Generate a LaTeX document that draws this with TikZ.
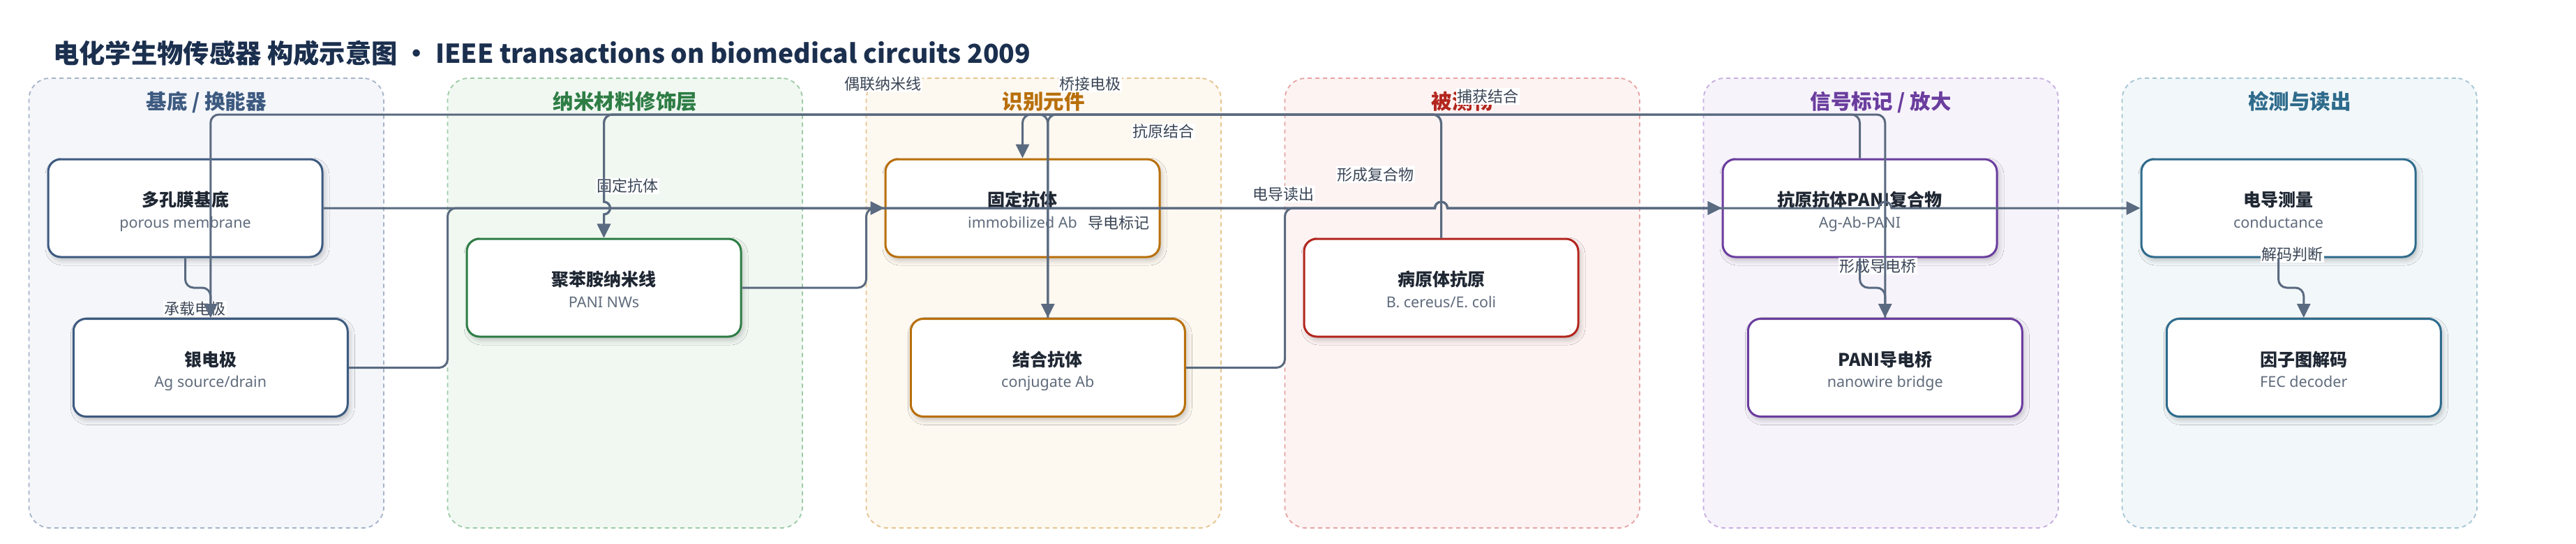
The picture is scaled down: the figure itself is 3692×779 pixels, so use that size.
\documentclass[tikz,border=0pt]{standalone}
\usepackage{fontspec}
\setmainfont{Noto Sans CJK SC}
\newfontfamily\subf{Noto Sans}
\usetikzlibrary{arrows.meta,shadows.blur}
\definecolor{edgec}{HTML}{5A6A80}
\definecolor{titlec}{HTML}{1B2F4E}
\definecolor{nodetc}{HTML}{1F2733}
\definecolor{subc}{HTML}{5F6B7C}
\definecolor{lblc}{HTML}{3A4556}
\definecolor{fA}{HTML}{F4F6FA}\definecolor{bA}{HTML}{A5B3C9}\definecolor{tA}{HTML}{3D5A80}
\definecolor{fB}{HTML}{F1F8F2}\definecolor{bB}{HTML}{9CCBA6}\definecolor{tB}{HTML}{2E7D45}
\definecolor{fC}{HTML}{FDF8F0}\definecolor{bC}{HTML}{E6C48E}\definecolor{tC}{HTML}{B86F0A}
\definecolor{fD}{HTML}{FDF3F3}\definecolor{bD}{HTML}{E8A3A3}\definecolor{tD}{HTML}{B3261E}
\definecolor{fE}{HTML}{F7F3FB}\definecolor{bE}{HTML}{C6AEE0}\definecolor{tE}{HTML}{6A3D9E}
\definecolor{fF}{HTML}{F2F7F9}\definecolor{bF}{HTML}{A3C6D4}\definecolor{tF}{HTML}{2E6B8C}
\tikzset{
  grp/.style 2 args={draw=#2, fill=#1, line width=1.8pt, dash pattern=on 6pt off 5pt,
    rounded corners=30pt, minimum width=508.5pt, minimum height=644pt, inner sep=0pt},
  grptitle/.style={font=\bfseries\fontsize{29.5}{32}\selectfont, text=#1, anchor=base, inner sep=0pt},
  box/.style={draw=#1, fill=white, line width=3pt, rounded corners=18pt,
    minimum width=393pt, minimum height=140pt, inner sep=0pt,
    blur shadow={shadow xshift=3pt, shadow yshift=-5pt, shadow blur radius=7pt, shadow opacity=22}},
  ttl/.style={font=\bfseries\fontsize{25}{28}\selectfont, text=nodetc, anchor=base, inner sep=0pt},
  sub/.style={font=\subf\fontsize{21.5}{24}\selectfont, text=subc, anchor=base, inner sep=0pt},
  lbl/.style={font=\fontsize{22}{24}\selectfont, text=lblc, fill=white, inner sep=1.5pt},
  edge/.style={draw=edgec, line width=3pt, rounded corners=12pt},
  arr/.style={-{Triangle[length=20pt,width=19pt]}},
}
\newcommand\mkgrp[4]{% name, center x, fill, border
  \node[grp={#3}{#4}] (#1) at (#2,434) {};
}
\newcommand\mkbox[5]{% name, position, colour, title, subtitle
  \node[box=#3] (#1) at (#2) {};
  \node[ttl] (#1-t) at ([yshift=2.5pt]#1.center) {#4};
  \node[sub] (#1-s) at ([yshift=-28pt]#1.center) {#5};
}
\begin{document}
\begin{tikzpicture}[x=1pt,y=-1pt]
\useasboundingbox (0,0) rectangle (3692,779);
\fill[white] (0,0) rectangle (3692,779);

% title
\node[anchor=base west, inner sep=0pt, font=\bfseries\fontsize{37.3}{41}\selectfont, text=titlec] (title) at (76,90)
  {电化学生物传感器 构成示意图 · IEEE transactions on biomedical circuits 2009};

% groups
\mkgrp{g1}{295.75}{fA}{bA}
\mkgrp{g2}{895.75}{fB}{bB}
\mkgrp{g3}{1495.75}{fC}{bC}
\mkgrp{g4}{2095.75}{fD}{bD}
\mkgrp{g5}{2695.75}{fE}{bE}
\mkgrp{g6}{3295.75}{fF}{bF}
\node[grptitle=tA] (g1-t) at (295.75,156) {基底 / 换能器};
\node[grptitle=tB] (g2-t) at (895.75,156) {纳米材料修饰层};
\node[grptitle=tC] (g3-t) at (1495.75,156) {识别元件};
\node[grptitle=tD] (g4-t) at (2095.75,156) {被测物};
\node[grptitle=tE] (g5-t) at (2695.75,156) {信号标记 / 放大};
\node[grptitle=tF] (g6-t) at (3295.75,156) {检测与读出};

% nodes
\mkbox{A}{265.5,298}{tA}{多孔膜基底}{porous membrane}
\mkbox{B}{301.75,526.5}{tA}{银电极}{Ag source/drain}
\mkbox{C}{865.5,412}{tB}{聚苯胺纳米线}{PANI NWs}
\mkbox{D}{1465.5,298}{tC}{固定抗体}{immobilized Ab}
\mkbox{E}{1501.75,526.5}{tC}{结合抗体}{conjugate Ab}
\mkbox{F}{2065.5,412}{tD}{病原体抗原}{B. cereus/E. coli}
\mkbox{G}{2665.5,298}{tE}{抗原抗体PANI复合物}{Ag-Ab-PANI}
\mkbox{H}{2701.75,526.5}{tE}{PANI导电桥}{nanowire bridge}
\mkbox{I}{3265.5,298}{tF}{电导测量}{conductance}
\mkbox{J}{3301.75,526.5}{tF}{因子图解码}{FEC decoder}

% edge labels
\node[lbl] (l1) at (279,442.5) {承载电极};
\node[lbl] (l2) at (899.5,266.5) {固定抗体};
\node[lbl] (l3) at (1265,120) {偶联纳米线};
\node[lbl] (l4) at (1562.7,120) {桥接电极};
\node[lbl] (l5) at (1667,188.5) {抗原结合};
\node[lbl] (l6) at (1603,319) {导电标记};
\node[lbl] (l7) at (1839.5,278) {电导读出};
\node[lbl] (l8) at (1971,250) {形成复合物};
\node[lbl] (l9) at (2132,138) {捕获结合};
\node[lbl] (l10) at (2691,381) {形成导电桥};
\node[lbl] (l11) at (3285,364) {解码判断};

% connectors
\draw[edge,arr] (A.south) -- (265.5,412) -- (301.75,412) -- (B.north);
\draw[edge,arr] (H.north) -- (2701.75,164) -- (301.75,164) -- (B.north);
\draw[edge,arr] (A.east) -- (1000,298) [sharp corners] -- (2056.5,298)
  arc[start angle=180,end angle=360,radius=9] -- (G.west);
\draw[edge,arr] (B.east) -- (641.5,526.5) -- (641.5,298) -- (700,298) [sharp corners] -- (2056.5,298)
  arc[start angle=180,end angle=360,radius=9] -- (2692.75,298)
  arc[start angle=180,end angle=360,radius=9] -- (I.west);
\draw[edge,arr] (C.east) -- (1241.5,412) -- (1241.5,298) -- (D.west);
\draw[edge,arr] (E.east) -- (1841.5,526.5) -- (1841.5,298) -- (1900,298) [sharp corners] -- (2056.5,298)
  arc[start angle=180,end angle=360,radius=9] -- (G.west);
\draw[edge,arr] (F.north) -- (2065.5,164) -- (1465.5,164) -- (D.north);
\draw[edge,arr] (F.north) -- (2065.5,164) -- (1501.75,164) -- (E.north);
\draw[edge,arr] (E.north) -- (1501.75,164) -- (865.5,164) -- (865.5,230) [sharp corners] -- (865.5,289)
  arc[start angle=-90,end angle=90,radius=9] -- (C.north);
\draw[edge,arr] (G.north) -- (2665.5,164) -- (865.5,164) -- (865.5,230) [sharp corners] -- (865.5,289)
  arc[start angle=-90,end angle=90,radius=9] -- (C.north);
\draw[edge,arr] (G.south) -- (2665.5,412) -- (2701.75,412) -- (H.north);
\draw[edge,arr] (I.south) -- (3265.5,412) -- (3301.75,412) -- (J.north);
\end{tikzpicture}
\end{document}
